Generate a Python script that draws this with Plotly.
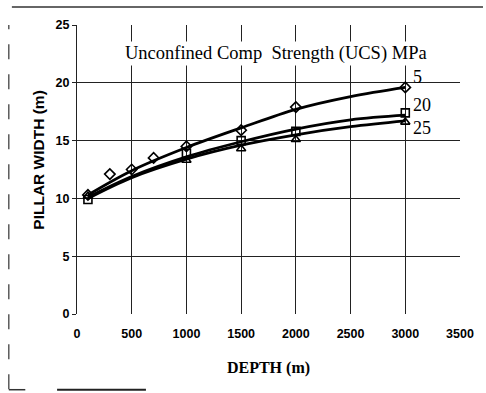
import plotly.graph_objects as go

# Curves
curve_depth = [100, 500, 1000, 1500, 2000, 2500, 3000]
curve_ucs5 = [10.3, 12.4, 14.4, 16.1, 17.7, 18.8, 19.6]
curve_ucs20 = [10.1, 11.9, 13.6, 14.9, 16.0, 16.8, 17.2]
curve_ucs25 = [10.0, 11.8, 13.4, 14.6, 15.5, 16.2, 16.7]

# Marker data
depth_5 = [100, 300, 500, 700, 1000, 1500, 2000, 3000]
width_5 = [10.3, 12.1, 12.5, 13.5, 14.5, 15.9, 17.9, 19.6]
depth_20 = [100, 1000, 1500, 2000, 3000]
width_20 = [9.9, 13.9, 15.0, 15.8, 17.4]
depth_25 = [100, 1000, 1500, 2000, 3000]
width_25 = [10.2, 13.3, 14.3, 15.1, 16.6]

series_labels = ["5", "20", "25"]
label_values = [20.5, 18.1, 16.1]
x_ticks = [0, 500, 1000, 1500, 2000, 2500, 3000, 3500]
y_ticks = [0, 5, 10, 15, 20, 25]

fig = go.Figure()
for cy in [curve_ucs5, curve_ucs20, curve_ucs25]:
    fig.add_trace(go.Scatter(x=curve_depth, y=cy, mode="lines",
                             line=dict(color="black", width=2.8, shape="spline"),
                             showlegend=False, hoverinfo="skip"))
for dx, wy, sym in [(depth_5, width_5, "diamond-open"),
                    (depth_20, width_20, "square-open"),
                    (depth_25, width_25, "triangle-up-open")]:
    fig.add_trace(go.Scatter(x=dx, y=wy, mode="markers",
                             marker=dict(symbol=sym, size=8, color="black",
                                         line=dict(color="black", width=1.6)),
                             showlegend=False))

# end labels
for lab, ly in zip(series_labels, label_values):
    fig.add_annotation(x=curve_depth[-1], y=ly, text=lab, showarrow=False,
                       xanchor="left", xshift=6,
                       font=dict(family="Liberation Serif", size=18, color="black"))

fig.add_annotation(x=0.52, xref="paper", y=22.5, text="Unconfined Comp  Strength (UCS) MPa",
                   showarrow=False, xanchor="center", bgcolor="white",
                   font=dict(family="Liberation Serif", size=18.5, color="black"))

fig.add_annotation(x=-0.1, xref="paper", y=0.533, yref="paper", text="PILLAR WIDTH (m)",
                   showarrow=False, textangle=-90, xanchor="center", yanchor="middle",
                   font=dict(family="Liberation Sans", size=15.5, color="black", weight="bold"))

# scan border artefacts
fig.add_shape(type="line", xref="paper", yref="paper", x0=-0.17, x1=1.06, y0=1.062, y1=1.062,
              layer="above", line=dict(color="#333", width=1.5))
fig.add_shape(type="line", xref="paper", yref="paper", x0=-0.178, x1=-0.178, y0=-0.26, y1=1.0,
              line=dict(color="#333", width=1.2, dash="longdash"))
fig.add_shape(type="line", xref="paper", yref="paper", x0=-0.178, x1=-0.135, y0=-0.262, y1=-0.262,
              line=dict(color="#333", width=1.5))
fig.add_shape(type="line", xref="paper", yref="paper", x0=-0.052, x1=0.18, y0=-0.262, y1=-0.262,
              line=dict(color="#222", width=2))

fig.update_layout(
    width=486, height=393,
    margin=dict(l=77, r=22, t=25, b=79),
    paper_bgcolor="white", plot_bgcolor="white",
    xaxis=dict(range=[0, 3500], tickvals=x_ticks, showgrid=True, gridcolor="#222", gridwidth=1,
               zeroline=False, showline=False, ticks="", ticklabelstandoff=10,
               tickfont=dict(family="Liberation Sans", size=12.5, color="black", weight="bold"),
               title=dict(text="DEPTH (m)", standoff=22,
                          font=dict(family="Liberation Serif", size=16, color="black", weight="bold"))),
    yaxis=dict(range=[0, 25], tickvals=y_ticks, showgrid=True, gridcolor="#222", gridwidth=1,
               zeroline=False, showline=True, linecolor="#222", linewidth=1,
               ticks="outside", ticklen=4, tickcolor="#222",
               tickfont=dict(family="Liberation Sans", size=12.5, color="black", weight="bold")),
)

fig.write_html("out.html")
